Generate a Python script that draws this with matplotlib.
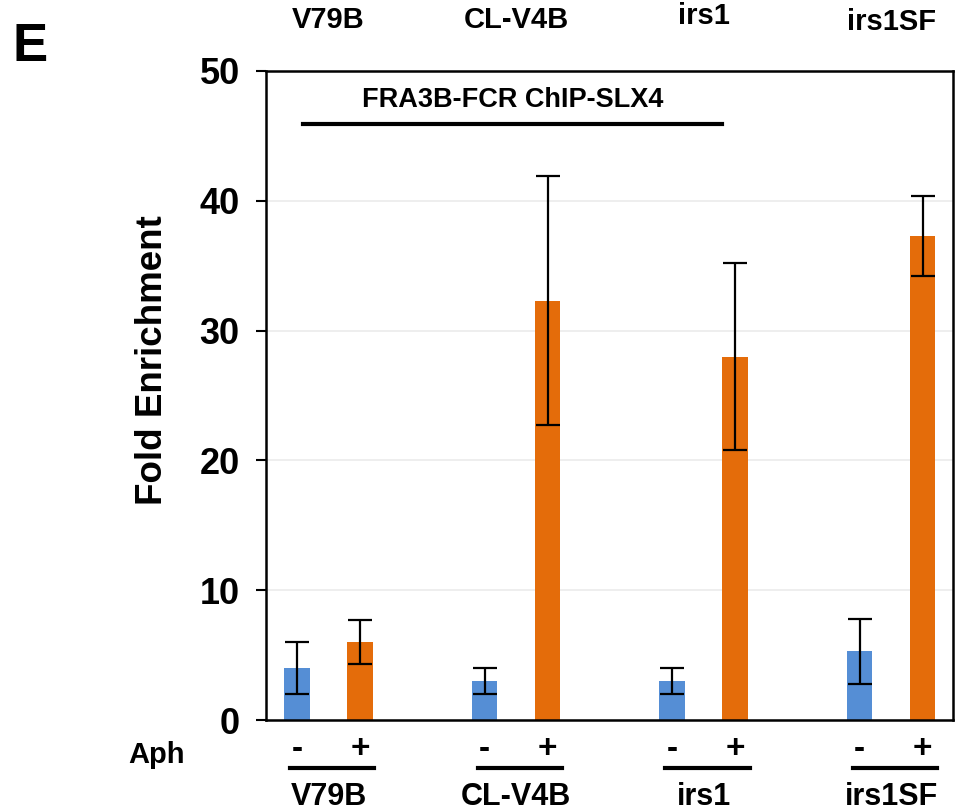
import numpy as np
import matplotlib
matplotlib.use("Agg")
import matplotlib.pyplot as plt

# values
cell_lines = ["V79B", "CL-V4B", "irs1", "irs1SF"]
minus_aph = [4.0, 3.0, 3.0, 5.3]
minus_err = [2.0, 1.0, 1.0, 2.5]
plus_aph = [6.0, 32.3, 28.0, 37.3]
plus_err = [1.7, 9.6, 7.2, 3.1]
y_ticks = [0, 10, 20, 30, 40, 50]

blue = "#558ED5"
orange = "#E46C0A"

plt.rcParams['font.family'] = ['Liberation Sans', 'DejaVu Sans']
plt.rcParams['font.weight'] = 'bold'

fig = plt.figure(figsize=(9.71, 8.11), dpi=100)
ax = fig.add_axes([0.274, 0.1122, 0.7075, 0.8003])

x = np.arange(len(cell_lines))
off = 0.168
w = 0.135
err_kw = dict(ecolor="black", elinewidth=1.6, capsize=8.5, capthick=1.6)
ax.bar(x - off, minus_aph, w, color=blue, yerr=minus_err, error_kw=err_kw, zorder=2)
ax.bar(x + off, plus_aph, w, color=orange, yerr=plus_err, error_kw=err_kw, zorder=2)

ax.set_xlim(-0.333, 3.33)
ax.set_ylim(0, 50)
ax.set_yticks(y_ticks)
ax.set_yticklabels([str(t) for t in y_ticks], fontsize=26, fontweight='heavy')
ax.tick_params(axis='y', direction='out', length=7, width=1.5, pad=12)
ax.set_xticks([])
ax.yaxis.grid(True, color="#ebebeb", linewidth=1.2, zorder=0)
ax.set_axisbelow(True)
for s in ax.spines.values():
    s.set_linewidth(1.8)
    s.set_color("black")

fig.text(152 / 971, 1 - 360 / 811, "Fold Enrichment", rotation=90, ha='center', va='center',
         fontsize=26.5, fontweight='bold')

tr = ax.get_xaxis_transform()
# title and bar across top
ax.text(0.98, 0.955, "FRA3B-FCR ChIP-SLX4", transform=tr, ha='center', va='center',
        fontsize=19.5, fontweight='bold')
ax.plot([-0.136, 2.099], [0.918, 0.918], transform=tr, color="black", lw=3, clip_on=False)

# top labels
top_y = [1.079, 1.079, 1.085, 1.076]
for i, name in enumerate(cell_lines):
    ax.text(x[i], top_y[i], name, transform=tr, ha='center', va='center',
            fontsize=21, fontweight='bold')

# bottom annotations
ax.text(-0.915, -0.054, "Aph", transform=tr, ha='center', va='center',
        fontsize=21, fontweight='bold')
for i, name in enumerate(cell_lines):
    ax.text(x[i] - off, -0.046, "-", transform=tr, ha='center', va='center',
            fontsize=24, fontweight='bold')
    ax.text(x[i] + off, -0.046, "+", transform=tr, ha='center', va='center',
            fontsize=24, fontweight='bold')
    ax.plot([x[i] - 0.205, x[i] + 0.245], [-0.074, -0.074], transform=tr,
            color="black", lw=3, clip_on=False)
    ax.text(x[i], -0.118, name, transform=tr, ha='center', va='center',
            fontsize=22, fontweight='bold')

fig.text(0.013, 0.942, "E", fontsize=38, fontweight='bold', ha='left', va='center')

fig.savefig("out.png", dpi=100)
